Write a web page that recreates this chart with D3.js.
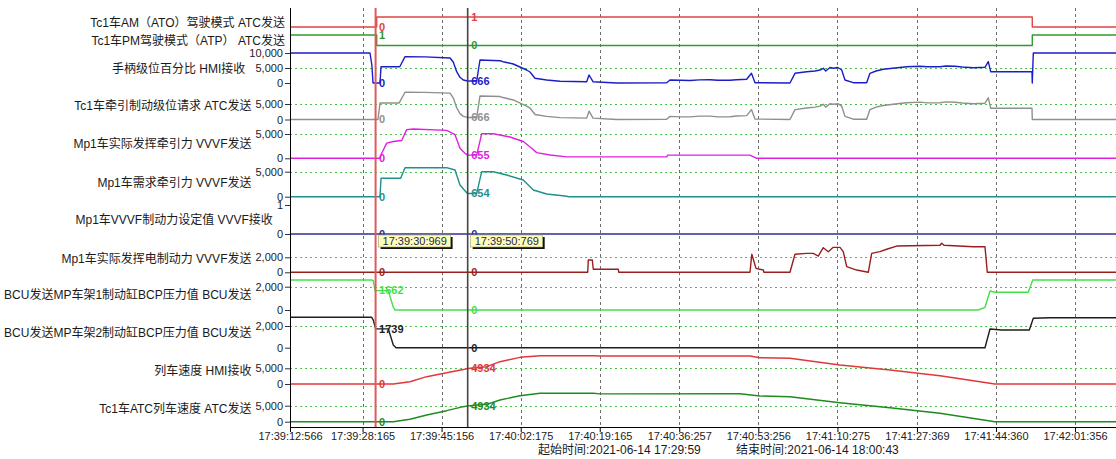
<!DOCTYPE html>
<html><head><meta charset="utf-8">
<script src="https://cdn.jsdelivr.net/npm/d3@7"></script>
<style>
html,body{margin:0;padding:0;background:#fff;}
svg{display:block;}
</style></head>
<body><svg id="c" width="1116" height="459"></svg>
<script>
// ---------------- DATA ----------------
const laneNames = [
  "Tc1车AM（ATO）驾驶模式 ATC发送",
  "Tc1车PM驾驶模式（ATP） ATC发送",
  "手柄级位百分比 HMI接收",
  "Tc1车牵引制动级位请求 ATC发送",
  "Mp1车实际发挥牵引力 VVVF发送",
  "Mp1车需求牵引力 VVVF发送",
  "Mp1车VVVF制动力设定值 VVVF接收",
  "Mp1车实际发挥电制动力 VVVF发送",
  "BCU发送MP车架1制动缸BCP压力值 BCU发送",
  "BCU发送MP车架2制动缸BCP压力值 BCU发送",
  "列车速度 HMI接收",
  "Tc1车ATC列车速度 ATC发送"
];
const laneMax = [1, 1, 10000, 5000, 5000, 5000, 1, 2000, 2000, 2000, 5000, 5000];
const laneTicks = [[], [], [0, 5000, 10000], [0, 5000], [0, 5000], [0, 5000], [0, 1], [0, 2000], [0, 2000], [0, 2000], [0, 5000], [0, 5000]];
const laneGrid = [[], [], [5000], [5000], [5000], [5000], [], [2000], [2000], [2000], [5000], [5000]];

const xTickLabels = ["17:39:12:566", "17:39:28:165", "17:39:45:156", "17:40:02:175", "17:40:19:165",
  "17:40:36:257", "17:40:53:256", "17:41:10:275", "17:41:27:369", "17:41:44:360", "17:42:01:356"];
const xDomain = ["17:39:12:566", "17:42:10:166"];
const cursorTimes = ["17:39:30:969", "17:39:50:769"];
const cursor1Values = [0, 1, 0, 0, 0, 0, 0, 0, 1662, 1739, 0, 0];
const cursor2Values = [1, 0, 666, 666, 655, 654, 0, 0, 0, 0, 4934, 4934];
const startText = "起始时间:2021-06-14 17:29:59";
const endText = "结束时间:2021-06-14 18:00:43";

// series: [seconds since 17:39:12.566, value]
const atoMode = [[0, 0], [18.64, 1], [159.6, 0], [177.6, 0]];
const pmMode = [[0, 1], [18.64, 0], [159.6, 1], [177.6, 1]];
const handlePct = [[0, 10000], [17.2, 10000], [17.6, 6000], [17.85, 0], [19.35, 0], [19.57, 5430], [23.6, 5430], [24.73, 8770],
  [29, 8700], [34.4, 8330], [35.1, 7000], [35.84, 3770], [36.55, 1900], [37.26, 1000], [38.2, 666], [40.14, 666], [40.85, 7670],
  [45.15, 7430], [45.8, 7100], [48.0, 6330], [50.89, 4330], [51.6, 3670], [52.68, 1570], [55.19, 1000], [58.05, 570], [63.79, 430],
  [64.29, 2670], [65.15, 430], [70.24, 0], [80.99, 100], [81.7, 1000], [84, 900], [86.0, 830], [88, 1050], [90.3, 1100], [92, 900],
  [94.6, 900], [96, 1100], [98.19, 1230], [99.22, 3230], [99.98, 100], [107.5, 0], [108.58, 3230], [111.09, 3770], [112.88, 4000],
  [113.95, 4330], [114.66, 4900], [115.2, 4000], [116.1, 5170], [116.81, 4900], [117.8, 5170], [118.62, 4330], [119.33, 1000],
  [121.11, 100], [123.99, 100], [124.7, 3230], [126.0, 4000], [127.56, 4570], [130.1, 5000], [132.59, 5430], [135.45, 5570],
  [137, 5400], [139.75, 5430], [141, 5650], [142.98, 5570], [144.5, 5350], [146.92, 5100], [149.43, 5230], [150.14, 7100],
  [150.66, 3770], [159.54, 3770], [159.6, 0], [159.82, 10000], [177.6, 10000]];
const tractionReq = [[0, 0], [18.92, 0], [19.35, 5300], [23.44, 5300], [24.73, 8800], [29, 8750], [34.4, 8500], [35.1, 7000],
  [35.84, 3800], [36.55, 1900], [37.26, 1000], [38.2, 666], [40.14, 666], [40.85, 7600], [45.15, 7400], [45.8, 7100], [48.0, 6300],
  [50.89, 4300], [51.6, 3700], [52.68, 1600], [55.19, 1000], [58.05, 600], [63.79, 450], [64.29, 2700], [65.15, 450], [70.24, 0],
  [80.99, 100], [81.7, 1000], [84, 850], [86, 850], [88, 1100], [90.3, 1100], [92, 850], [94.6, 900], [96, 1150], [98.19, 1250],
  [99.22, 3200], [99.98, 150], [107.5, 0], [108.58, 3200], [111.09, 3700], [112.88, 4000], [113.95, 4300], [114.66, 4900],
  [115.2, 4000], [116.1, 5100], [116.81, 4900], [117.8, 5100], [118.62, 4300], [119.33, 1000], [121.11, 100], [123.99, 100],
  [124.7, 3200], [126.0, 4000], [127.56, 4500], [130.1, 5000], [132.59, 5400], [135.45, 5600], [137, 5350], [139.75, 5400],
  [141, 5700], [142.98, 5550], [144.5, 5300], [146.92, 5100], [149.43, 5250], [150.14, 7000], [150.66, 3650], [159.54, 3650],
  [159.6, 0], [177.6, 0]];
const actualTraction = [[0, 0], [19.35, 0], [19.72, 1040], [20.79, 3125], [22.21, 3460], [24.02, 3667], [25.09, 5900],
  [26.51, 6040], [33.69, 5750], [35.48, 4850], [36.55, 2080], [37.63, 1040], [38.2, 655], [40.14, 655], [41.22, 5060],
  [43.71, 5060], [47.3, 4375], [50.16, 3460], [51.97, 2080], [53.04, 1170], [55.9, 690], [59.49, 300], [80.99, 300],
  [81.2, 650], [98.9, 650], [100.34, 0], [177.6, 0]];
const demandTraction = [[0, 0], [19.35, 0], [19.57, 3680], [23.8, 3680], [24.73, 5800], [33.69, 5800], [35.48, 5340],
  [36.55, 2340], [37.99, 800], [38.2, 654], [40.14, 654], [41.22, 5000], [43.71, 5000], [46.59, 4340], [50.16, 3340],
  [52.31, 1340], [55.19, 540], [59.13, 140], [60, 0], [177.6, 0]];
const brakeSet = [[0, 0], [177.6, 0]];
const elecBrake = [[0, 0], [64.01, 0], [64.14, 1640], [65.0, 1640], [65.21, 400], [70.59, 400], [70.7, 0], [98.9, 0],
  [99.3, 2400], [100.19, 530], [101.77, 300], [101.9, 0], [107.5, 0], [108.58, 2400], [111.09, 2530], [112.51, 2530],
  [113.59, 2170], [114.66, 3280], [115.74, 2750], [116.81, 3330], [118.25, 3330], [118.96, 2750], [119.7, 750], [121.84, 300],
  [124.34, 0], [125.07, 2530], [126.85, 2750], [128.29, 3070], [130.44, 3500], [139.75, 3600], [140.12, 3870], [140.61, 3600],
  [146.92, 3410], [149.43, 3410], [149.93, 0], [177.6, 0]];
const bcp1 = [[0, 2575], [17.57, 2575], [17.91, 2520], [18.28, 1690], [18.4, 1662], [21.13, 1662], [22.21, 230], [22.58, 0],
  [147.99, 0], [149.43, 230], [150.51, 1630], [151.58, 1520], [158.74, 1520], [159.69, 2575], [177.6, 2575]];
const bcp2 = [[0, 2800], [17.57, 2800], [17.91, 2550], [18.4, 1739], [21.13, 1739], [22.21, 250], [22.79, 0], [149.43, 0],
  [150.51, 1720], [153.02, 1630], [158.96, 1630], [159.82, 2710], [163.41, 2760], [177.6, 2760]];
const hmiSpeed = [[0, 0], [22.21, 0], [25.8, 730], [29.39, 2325], [33.69, 3600], [37.26, 4600], [38.2, 4934], [42.29, 5510],
  [45.15, 7100], [49.45, 8500], [53.75, 9010], [65.21, 9010], [66.65, 8920], [98.9, 8920], [101.05, 8380], [107.5, 8200],
  [118.25, 6050], [129.0, 4460], [139.75, 2640], [150.51, 220], [151.5, 0], [177.6, 0]];
const atcSpeed = [[0, 0], [22.21, 0], [25.8, 750], [29.39, 2090], [33.69, 3440], [37.26, 4690], [38.2, 4934], [42.29, 5440],
  [45.15, 6780], [49.45, 8125], [53.75, 8875], [65.21, 8875], [66.65, 8700], [96.75, 8750], [101.05, 8030], [107.5, 7810],
  [118.25, 5940], [129.0, 4375], [139.75, 2625], [150.51, 220], [151.5, 0], [177.6, 0]];
const seriesList = [atoMode, pmMode, handlePct, tractionReq, actualTraction, demandTraction, brakeSet, elecBrake, bcp1, bcp2, hmiSpeed, atcSpeed];

// ---------------- LAYOUT / STYLE ----------------
const plotL = 290, plotR = 1116, plotT = 8, plotB = 427;
const laneLayout = [
  {y0: 27, y1: 17, ly: 22.3, color: "#e04444", step: true},
  {y0: 45.5, y1: 35, ly: 40.7, color: "#2f9a2f", step: true},
  {y0: 83, y1: 53, ly: 69, color: "#1c1cc8"},
  {y0: 119.5, y1: 104, ly: 106, color: "#8f8f8f"},
  {y0: 158.3, y1: 134, ly: 144, color: "#e020e0"},
  {y0: 196.7, y1: 171.7, ly: 182.3, color: "#1f8f8f"},
  {y0: 234, y1: 205, ly: 220, color: "#303090"},
  {y0: 272.3, y1: 257.3, ly: 258.3, color: "#9a1e1e"},
  {y0: 310, y1: 286.7, ly: 295, color: "#44e044"},
  {y0: 347.7, y1: 326, ly: 332.3, color: "#1e1e1e"},
  {y0: 384, y1: 368.3, ly: 370.7, color: "#e03838"},
  {y0: 421.7, y1: 405.7, ly: 408.3, color: "#1f8a1f"}
];
const cursorStyle = [{color: "#e05a5a", w: 2}, {color: "#454545", w: 1.6}];

const FONT = "'Liberation Sans', 'Noto Sans CJK SC', Arial, sans-serif";
const svg = d3.select("#c");

const parseT = s => { const [h, m, sec, ms] = s.split(":").map(Number); return new Date(2021, 5, 14, h, m, sec, ms); };
const t0 = parseT(xDomain[0]);
const tAt = s => new Date(t0.getTime() + s * 1000);
const x = d3.scaleTime().domain(xDomain.map(parseT)).range([plotL, plotR]);
const yScales = laneLayout.map((L, i) => d3.scaleLinear().domain([0, laneMax[i]]).range([L.y0, L.y1]));

// vertical dashed grid
svg.append("g").selectAll("line").data(xTickLabels.slice(1)).join("line")
  .attr("x1", d => Math.round(x(parseT(d))) + 0.5).attr("x2", d => Math.round(x(parseT(d))) + 0.5)
  .attr("y1", plotT).attr("y2", plotB)
  .attr("stroke", "#6e6e6e").attr("stroke-width", 1).attr("stroke-dasharray", "3,3");

// horizontal dotted grid
laneGrid.forEach((g, i) => {
  svg.append("g").selectAll("line").data(g).join("line")
    .attr("x1", plotL).attr("x2", plotR)
    .attr("y1", d => Math.round(yScales[i](d)) + 0.5).attr("y2", d => Math.round(yScales[i](d)) + 0.5)
    .attr("stroke", "#4cc44c").attr("stroke-width", 1).attr("stroke-dasharray", "2,3");
});

// y axes per lane + lane names
laneLayout.forEach((L, i) => {
  const ax = svg.append("g").attr("transform", `translate(${plotL},0)`)
    .call(d3.axisLeft(yScales[i]).tickValues(laneTicks[i]).tickFormat(d3.format(",")).tickSize(5).tickPadding(2));
  ax.select(".domain").remove();
  ax.selectAll("line").attr("stroke", "#333");
  ax.selectAll("text").attr("font-family", FONT).attr("font-size", 11).attr("fill", "#222");
  let maxW = 0;
  ax.selectAll("text").each(function () { maxW = Math.max(maxW, this.getComputedTextLength()); });
  const right = laneTicks[i].length ? plotL - 7 - maxW - 4 : plotL - 5;
  svg.append("text").attr("x", right).attr("y", L.ly).attr("dy", "0.35em")
    .attr("text-anchor", "end").attr("font-family", FONT).attr("font-size", 12).attr("fill", "#1a1a1a")
    .text(laneNames[i]);
});

// series lines
seriesList.forEach((data, i) => {
  const L = laneLayout[i];
  const line = d3.line().x(d => x(tAt(d[0]))).y(d => yScales[i](d[1]))
    .curve(L.step ? d3.curveStepAfter : d3.curveLinear);
  svg.append("path").datum(data).attr("d", line).attr("fill", "none")
    .attr("stroke", L.color).attr("stroke-width", 1.4).attr("stroke-linejoin", "round");
});

// left axis line
svg.append("line").attr("x1", plotL + 0.5).attr("x2", plotL + 0.5).attr("y1", plotT).attr("y2", plotB)
  .attr("stroke", "#000").attr("stroke-width", 1);

// x axis
const xAxis = svg.append("g").attr("transform", `translate(0,${plotB})`)
  .call(d3.axisBottom(x).tickValues(xTickLabels.map(parseT)).tickFormat((d, i) => xTickLabels[i])
    .tickSize(5).tickSizeOuter(0).tickPadding(0));
xAxis.select(".domain").attr("stroke", "#000");
xAxis.selectAll("line").attr("stroke", "#000");
xAxis.selectAll("text").attr("font-family", FONT).attr("font-size", 11).attr("fill", "#222");

// cursors
const cursorVals = [cursor1Values, cursor2Values];
cursorTimes.forEach((ct, k) => {
  const cx = x(parseT(ct));
  svg.append("line").attr("x1", cx).attr("x2", cx).attr("y1", plotT).attr("y2", plotB)
    .attr("stroke", cursorStyle[k].color).attr("stroke-width", cursorStyle[k].w);
  cursorVals[k].forEach((v, i) => {
    svg.append("text").attr("x", cx + 3.5).attr("y", yScales[i](v)).attr("dy", "0.35em")
      .attr("font-family", FONT).attr("font-size", 11).attr("font-weight", "bold")
      .attr("fill", laneLayout[i].color).text(d3.format("d")(v));
  });
  // tooltip box
  const bx = cx + 3, by = 235, bw = 72, bh = 12;
  svg.append("rect").attr("x", bx + 2).attr("y", by + 2).attr("width", bw).attr("height", bh).attr("fill", "#111");
  svg.append("rect").attr("x", bx).attr("y", by).attr("width", bw).attr("height", bh)
    .attr("fill", "#ffffb8").attr("stroke", "#9a9a70").attr("stroke-width", 0.6);
  svg.append("text").attr("x", bx + 4).attr("y", by + bh / 2).attr("dy", "0.36em")
    .attr("font-family", FONT).attr("font-size", 11).attr("fill", "#25255a").text(ct);
});

// start / end time texts
svg.append("text").attr("x", 538).attr("y", 450).attr("dy", "0.35em")
  .attr("font-family", FONT).attr("font-size", 12).attr("fill", "#1a1a1a").text(startText);
svg.append("text").attr("x", 736).attr("y", 450).attr("dy", "0.35em")
  .attr("font-family", FONT).attr("font-size", 12).attr("fill", "#1a1a1a").text(endText);
</script>
</body></html>
